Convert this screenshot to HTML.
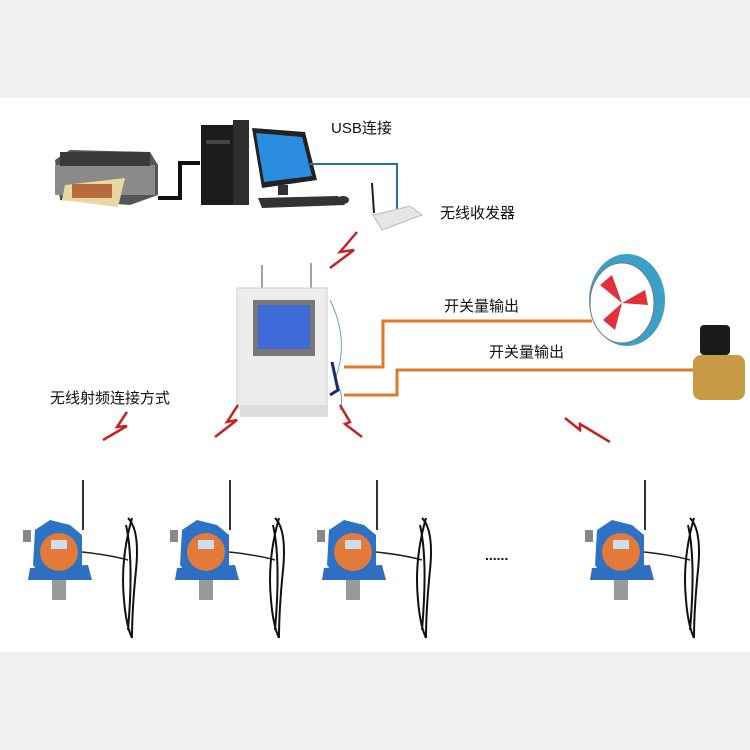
<!DOCTYPE html>
<html><head><meta charset="utf-8"><style>
html,body{margin:0;padding:0;width:750px;height:750px;overflow:hidden;background:#fff}
svg text{font-family:"Liberation Sans","Noto Sans CJK SC",sans-serif;fill:#111}
</style></head><body>
<svg width="750" height="750" viewBox="0 0 750 750" xmlns="http://www.w3.org/2000/svg">
<rect x="0" y="0" width="750" height="98" fill="#f1eff0"/>
<rect x="0" y="652" width="750" height="98" fill="#f1eff0"/>
<!-- printer -->
<path d="M55 160 L70 150 L150 152 L158 165 L158 195 L130 205 L60 200 Z" fill="#555"/>
<rect x="55" y="165" width="100" height="30" fill="#8a8a8a"/>
<rect x="60" y="152" width="90" height="14" fill="#3a3a3a"/>
<polygon points="65,185 125,178 118,207 62,200" fill="#e8d7a0"/>
<rect x="72" y="184" width="40" height="14" fill="#b86a3c"/>
<polyline points="158,198 180,198 180,163 200,163" fill="none" stroke="#111" stroke-width="4"/>
<!-- tower -->
<rect x="201" y="125" width="35" height="80" fill="#1b1b1b"/>
<rect x="233" y="120" width="16" height="85" fill="#2e2e2e"/>
<rect x="206" y="140" width="24" height="4" fill="#444"/>
<!-- monitor -->
<polygon points="252,128 305,132 317,180 262,188" fill="#222"/>
<polygon points="256,133 302,137 312,176 264,182" fill="#2a8de0"/>
<rect x="278" y="185" width="10" height="10" fill="#333"/>
<polygon points="258,198 338,196 345,205 262,208" fill="#333"/>
<ellipse cx="343" cy="200" rx="6" ry="4" fill="#333"/>
<polyline points="307,164 397,164 397,220" fill="none" stroke="#1e6fc2" stroke-width="2"/>
<text x="331" y="133" font-size="15">USB连接</text>
<!-- router -->
<line x1="372" y1="183" x2="374" y2="213" stroke="#222" stroke-width="2"/>
<polygon points="373,215 410,206 422,215 382,230" fill="#e6e6e6" stroke="#bbb"/>
<text x="440" y="218" font-size="15">无线收发器</text>
<polyline points="357,232 340,252 354,250 330,268" fill="none" stroke="#c62222" stroke-width="2.5"/>
<!-- controller -->
<line x1="262" y1="265" x2="262" y2="288" stroke="#444"/>
<line x1="311" y1="263" x2="311" y2="288" stroke="#444"/>
<rect x="237" y="288" width="90" height="120" fill="#ececec" stroke="#ccc"/>
<rect x="253" y="300" width="62" height="56" fill="#777"/>
<rect x="258" y="305" width="52" height="44" fill="#3f6bd8"/>
<rect x="240" y="405" width="88" height="12" fill="#ddd"/>
<path d="M330 300 Q350 340 335 380 Q345 395 340 410" fill="none" stroke="#6aa" stroke-width="1"/>
<path d="M332 362 L338 390 L330 395" fill="none" stroke="#1b2a6a" stroke-width="3"/>
<!-- orange lines -->
<polyline points="344,367 383,367 383,321 592,321" fill="none" stroke="#e27a25" stroke-width="3"/>
<polyline points="344,395 397,395 397,370 695,370" fill="none" stroke="#e27a25" stroke-width="3"/>
<text x="444" y="311" font-size="15">开关量输出</text>
<text x="489" y="357" font-size="15">开关量输出</text>
<!-- fan -->
<ellipse cx="627" cy="300" rx="38" ry="46" fill="#3aa0c8"/>
<ellipse cx="622" cy="303" rx="32" ry="40" fill="#fff" stroke="#777"/>
<path d="M622 303 L600 285 L612 275 Z M622 303 L645 290 L648 305 Z M622 303 L615 330 L603 320 Z" fill="#e0303a"/>
<!-- valve -->
<rect x="700" y="325" width="30" height="30" rx="4" fill="#1a1a1a"/>
<rect x="693" y="355" width="52" height="45" rx="8" fill="#c89a45"/>
<text x="50" y="403" font-size="15">无线射频连接方式</text>
<polyline points="127,412 117,427 127,426 103,440" fill="none" stroke="#c62222" stroke-width="2.5"/>
<polyline points="238,405 227,422 237,420 215,437" fill="none" stroke="#c62222" stroke-width="2.5"/>
<polyline points="340,405 350,422 345,424 362,437" fill="none" stroke="#c62222" stroke-width="2.5"/>
<polyline points="565,418 580,430 580,424 610,442" fill="none" stroke="#c62222" stroke-width="2.5"/>
<!-- detectors -->
<g id="d">
<line x1="83" y1="480" x2="83" y2="530" stroke="#333" stroke-width="2"/>
<rect x="23" y="530" width="8" height="12" fill="#888"/>
<path d="M35 530 L50 520 L70 525 L82 535 L82 565 L70 580 L45 580 L33 565 Z" fill="#2e72c6"/>
<polygon points="30,568 88,565 92,580 28,580" fill="#2e6fbf"/>
<circle cx="59" cy="552" r="19" fill="#e47a3a"/>
<rect x="51" y="540" width="16" height="9" fill="#cde"/>
<rect x="52" y="580" width="14" height="20" fill="#999"/>
<path d="M82 552 Q110 555 128 560" fill="none" stroke="#222" stroke-width="1.5"/>
<path d="M128 518 Q140 530 136 570 Q132 610 132 638 M132 518 Q120 560 124 600 Q126 625 132 638 M126 525 Q134 560 128 630" fill="none" stroke="#111" stroke-width="2"/>
</g>
<use href="#d" x="147"/>
<use href="#d" x="294"/>
<use href="#d" x="562"/>
<text x="485" y="560" font-size="14" font-weight="bold">......</text>
</svg>
</body></html>
